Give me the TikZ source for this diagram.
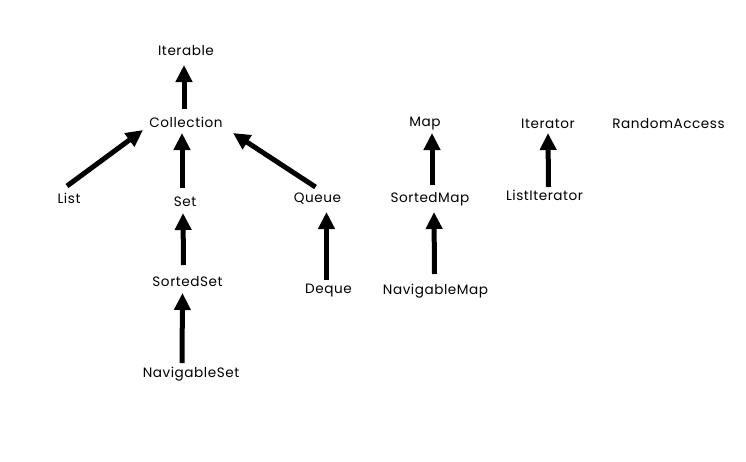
\documentclass[tikz,border=0pt]{standalone}
\usepackage{fontspec}
\setmainfont{Poppins}[LetterSpace=4]
\usetikzlibrary{arrows.meta,calc}
\begin{document}
\begin{tikzpicture}[x=1pt,y=-1pt,
  lbl/.style={inner sep=0pt,text height=9.5pt,text depth=0pt,font=\fontsize{13.6}{15}\selectfont},
  arr/.style={line width=5pt,-{Triangle[length=17pt,width=16pt]},shorten <=0pt}]
\useasboundingbox[fill=white] (0,0) rectangle (746,461);
\node[lbl] (Iterable) at (186,51) {Iterable};
\node[lbl] (Collection) at (186,123) {Collection};
\node[lbl] (List) at (69,199) {List};
\node[lbl] (Set) at (185,202) {Set};
\node[lbl] (Queue) at (317.5,198) {Queue};
\node[lbl] (SortedSet) at (187.5,282) {SortedSet};
\node[lbl] (NavigableSet) at (191,373) {NavigableSet};
\node[lbl] (Deque) at (328.5,289) {Deque};
\node[lbl] (Map) at (425,122) {Map};
\node[lbl] (SortedMap) at (430,198) {SortedMap};
\node[lbl] (NavigableMap) at (435.5,290) {NavigableMap};
\node[lbl] (Iterator) at (548,124) {Iterator};
\node[lbl] (ListIterator) at (544.5,196) {ListIterator};
\node[lbl] (RandomAccess) at (668.5,124) {RandomAccess};
\draw[arr] ($(Collection)+(-2,-14)$) -- ($(Iterable)+(-2,14)$);
\draw[arr] ($(List)+(-2,-13)$) -- ($(Collection)+(-43,7)$);
\draw[arr] ($(Set)+(-3,-14)$) -- ($(Collection)+(-4,10)$);
\draw[arr] ($(Queue)+(-2,-11)$) -- ($(Collection)+(47,10)$);
\draw[arr] ($(SortedSet)+(-4,-17)$) -- ($(Set)+(-2,11)$);
\draw[arr] ($(NavigableSet)+(-9,-10)$) -- ($(SortedSet)+(-5,11)$);
\draw[arr] ($(Deque)+(-2,-9)$) -- ($(Queue)+(9,14)$);
\draw[arr] ($(SortedMap)+(2,-13)$) -- ($(Map)+(7,11)$);
\draw[arr] ($(NavigableMap)+(-1,-16)$) -- ($(SortedMap)+(4,14)$);
\draw[arr] ($(ListIterator)+(4,-9)$) -- ($(Iterator)+(0,9)$);
\end{tikzpicture}
\end{document}
